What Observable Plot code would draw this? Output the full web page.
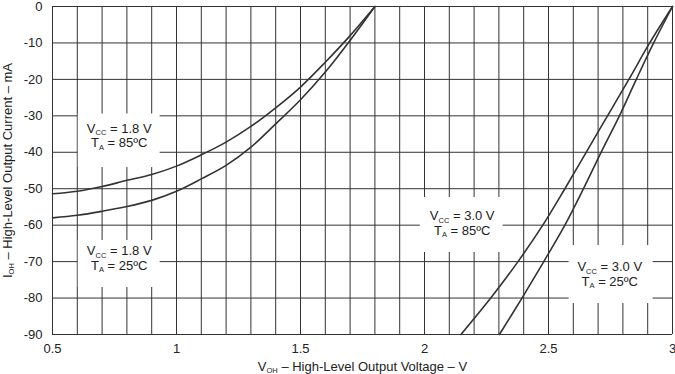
<!DOCTYPE html>
<html>
<head>
<meta charset="utf-8">
<script src="https://cdn.jsdelivr.net/npm/d3@7"></script>
<script src="https://cdn.jsdelivr.net/npm/@observablehq/plot@0.6"></script>
<style>
  html, body { margin: 0; padding: 0; background: #fff; }
  #chart { width: 675px; height: 374px; }
</style>
</head>
<body>
<div id="chart"></div>
<script>
// ---- Data ----
// Vcc = 1.8 V curves: output voltage (V) vs output current (mA)
const v18 = [0.5, 0.6, 0.7, 0.8, 0.9, 1.0, 1.1, 1.2, 1.3, 1.4, 1.5, 1.6, 1.7, 1.8];
const i18_85 = [-51.4, -50.7, -49.4, -47.7, -46.1, -43.8, -40.7, -37.2, -32.9, -27.8, -22.1, -15.3, -8.0, 0];
const i18_25 = [-58.0, -57.3, -56.2, -54.9, -53.2, -50.7, -47.3, -43.6, -38.6, -32.2, -25.6, -18.0, -9.3, 0];

// Vcc = 3.0 V curves: voltage at each current level
const i30 = [-90, -80, -70, -60, -50, -40, -30, -20, -10, 0];
const v30_85 = [2.147, 2.267, 2.377, 2.477, 2.566, 2.652, 2.738, 2.824, 2.908, 3.0];
const v30_25 = [2.302, 2.393, 2.481, 2.566, 2.641, 2.712, 2.786, 2.854, 2.924, 3.0];

// Axes
const xTicks = [0.5, 1, 1.5, 2, 2.5, 3];
const xTickLabels = ["0.5", "1", "1.5", "2", "2.5", "3"];
const yTicks = [-90, -80, -70, -60, -50, -40, -30, -20, -10, 0];
const yTickLabels = ["-90", "-80", "-70", "-60", "-50", "-40", "-30", "-20", "-10", "0"];
const gridX = [0.5, 0.6, 0.7, 0.8, 0.9, 1.0, 1.1, 1.2, 1.3, 1.4, 1.5, 1.6, 1.7, 1.8, 1.9, 2.0,
               2.1, 2.2, 2.3, 2.4, 2.5, 2.6, 2.7, 2.8, 2.9, 3.0];
const gridY = yTicks;
const xLabel = "V_OH – High-Level Output Voltage – V";
const yLabel = "I_OH – High-Level Output Current – mA";

// Annotations (label text, anchor in data units, white backing box in data units)
const labelTexts = ["V_CC = 1.8 V\nT_A = 85ºC", "V_CC = 1.8 V\nT_A = 25ºC",
                    "V_CC = 3.0 V\nT_A = 85ºC", "V_CC = 3.0 V\nT_A = 25ºC"];
const labelX = [0.769, 0.769, 2.152, 2.747];
const labelY = [-35.4, -69.0, -59.4, -73.4];
const boxX1 = [0.604, 0.604, 1.983, 2.583];
const boxX2 = [0.934, 0.934, 2.317, 2.922];
const boxY1 = [-29.5, -64.2, -52.4, -65.6];
const boxY2 = [-44.2, -77.1, -67.5, -81.5];

// ---- Build tables ----
const curves = [
  ...v18.map((v, k) => ({v, i: i18_85[k], s: "1.8-85"})),
  ...v18.map((v, k) => ({v, i: i18_25[k], s: "1.8-25"})),
  ...i30.map((i, k) => ({v: v30_85[k], i, s: "3.0-85"})),
  ...i30.map((i, k) => ({v: v30_25[k], i, s: "3.0-25"}))
];
const labels = labelTexts.map((t, k) => ({t, x: labelX[k], y: labelY[k],
  x1: boxX1[k], x2: boxX2[k], y1: boxY1[k], y2: boxY2[k]}));

const ink = "#222";

const chart = Plot.plot({
  width: 675,
  height: 374,
  marginLeft: 52,
  marginRight: 3,
  marginTop: 6,
  marginBottom: 40,
  style: {fontFamily: "'Liberation Sans', Arial, sans-serif", fontSize: "13px", color: ink, background: "#fff", overflow: "visible"},
  x: {domain: [0.5, 3]},
  y: {domain: [-90, 0]},
  marks: [
    Plot.ruleX(gridX, {x: d => d, stroke: "#333", strokeWidth: 1}),
    Plot.ruleY(gridY, {y: d => d, stroke: "#333", strokeWidth: 1}),
    Plot.rect(labels, {x1: "x1", x2: "x2", y1: "y1", y2: "y2", fill: "#fff"}),
    Plot.line(curves, {x: "v", y: "i", z: "s", stroke: "#333", strokeWidth: 1.6, curve: "catmull-rom"}),
    Plot.text(labels, {x: "x", y: "y", text: "t", fill: ink, fontSize: 13, lineHeight: 1.12}),
    Plot.axisX(xTicks, {tickSize: 0, tickPadding: 9, tickFormat: (d) => xTickLabels[xTicks.indexOf(d)],
      label: xLabel, labelAnchor: "center", labelArrow: "none", labelOffset: 36, fontSize: 13, fill: ink}),
    Plot.axisY(yTicks, {tickSize: 0, tickPadding: 10, tickFormat: (d) => yTickLabels[yTicks.indexOf(d)],
      label: yLabel, labelAnchor: "center", labelArrow: "none", labelOffset: 50, fontSize: 13, fill: ink})
  ]
});

// Render subscripts: "_XX" -> small lowered text
const NS = "http://www.w3.org/2000/svg";
function applySubs(el) {
  const s = el.textContent;
  const re = /_([A-Z]+)/g;
  if (!/_([A-Z]+)/.test(s)) return;
  while (el.firstChild) el.removeChild(el.firstChild);
  let last = 0, m, shifted = false;
  while ((m = re.exec(s))) {
    const before = s.slice(last, m.index);
    if (before) {
      if (shifted) {
        const t = document.createElementNS(NS, "tspan");
        t.setAttribute("dy", "-2.5");
        t.textContent = before;
        el.appendChild(t);
        shifted = false;
      } else el.appendChild(document.createTextNode(before));
    }
    const sub = document.createElementNS(NS, "tspan");
    sub.setAttribute("dy", "2.5");
    sub.setAttribute("font-size", "7.5px");
    sub.textContent = m[1];
    el.appendChild(sub);
    shifted = true;
    last = m.index + m[0].length;
  }
  const rest = s.slice(last);
  const t = document.createElementNS(NS, "tspan");
  t.setAttribute("dy", shifted ? "-2.5" : "0");
  t.textContent = rest;
  el.appendChild(t);
}
chart.querySelectorAll("text, tspan").forEach(el => {
  if (el.children.length === 0) applySubs(el);
});

document.getElementById("chart").appendChild(chart);
</script>
</body>
</html>
